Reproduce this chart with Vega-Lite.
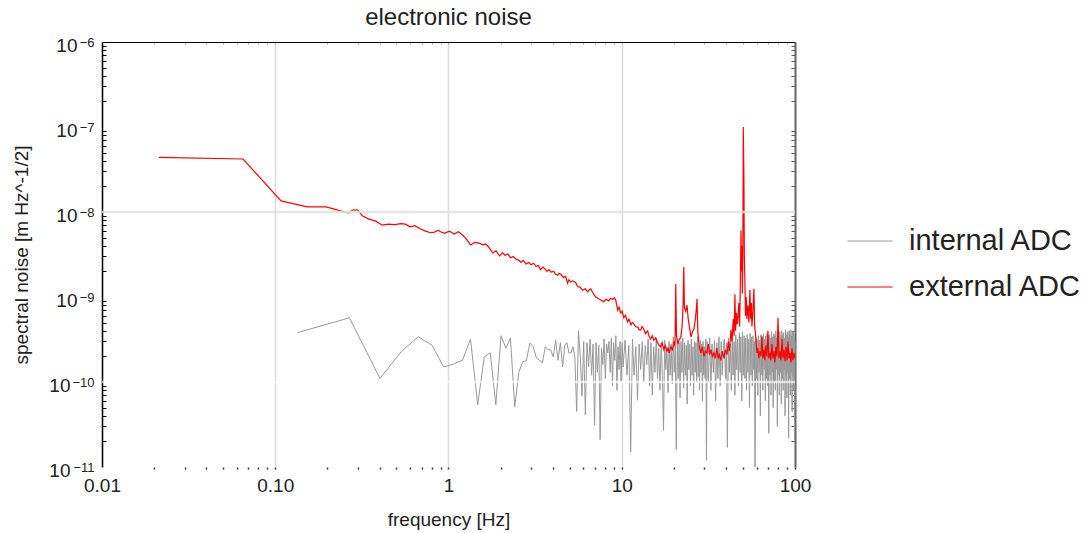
{
  "$schema": "https://vega.github.io/schema/vega-lite/v6.json",
  "width": 693,
  "height": 425,
  "autosize": {"type": "none"},
  "padding": {"left": 102, "top": 42, "right": 290, "bottom": 66},
  "background": "white",
  "title": {"text": "electronic noise", "fontSize": 24, "font": "Liberation Sans", "fontWeight": "normal", "color": "#222222", "offset": 6, "anchor": "middle"},
  "config": {
    "view": {"stroke": null},
    "font": "Liberation Sans",
    "axis": {"labelFont": "Liberation Sans", "titleFont": "Liberation Sans", "labelColor": "#222222", "titleColor": "#222222", "titleFontWeight": "normal"}
  },
  "resolve": {"axis": {"x": "independent", "y": "independent"}},
  "datasets": {
    "internal": [
      {"f":0.134,"v":3.8e-10},{"f":0.268,"v":5.7e-10},{"f":0.402,"v":1.1e-10},{"f":0.536,"v":2.3e-10},{"f":0.67,"v":3.4e-10},{"f":0.804,"v":2.7e-10},{"f":0.938,"v":1.5e-10},{"f":1.072,"v":1.63e-10},{"f":1.206,"v":1.81e-10},{"f":1.34,"v":3.2e-10},{"f":1.474,"v":5.4e-11},{"f":1.608,"v":1.97e-10},{"f":1.742,"v":2.2e-10},{"f":1.876,"v":5.4e-11},{"f":2.01,"v":3.5e-10},{"f":2.144,"v":2.5e-10},{"f":2.278,"v":3.3e-10},{"f":2.412,"v":5.1e-11},{"f":2.546,"v":1.3e-10},{"f":2.68,"v":1.73e-10},{"f":2.814,"v":1.78e-10},{"f":2.948,"v":2.87e-10},{"f":3.082,"v":2.6e-10},{"f":3.216,"v":1.92e-10},{"f":3.35,"v":1.8e-10},{"f":3.484,"v":1.68e-10},{"f":3.618,"v":2.6e-10},{"f":3.752,"v":2.4e-10},{"f":3.886,"v":2.4e-10},{"f":4.02,"v":1.97e-10},{"f":4.154,"v":3.1e-10},{"f":4.288,"v":1.8e-10},{"f":4.422,"v":2.9e-10},{"f":4.556,"v":1.5e-10},{"f":4.69,"v":2.7e-10},{"f":4.824,"v":2.9e-10},{"f":4.958,"v":2.2e-10},{"f":5.092,"v":2.2e-10},{"f":5.226,"v":2.6e-10},{"f":5.36,"v":2.0e-10},{"f":5.494,"v":4.5e-11},{"f":5.628,"v":4.0e-10},{"f":5.762,"v":2.0e-10},{"f":5.896,"v":6.8e-11},{"f":6.03,"v":3.0e-10},{"f":6.164,"v":4.1e-11},{"f":6.298,"v":2.9e-10},{"f":6.432,"v":1.5e-10},{"f":6.566,"v":3.2e-10},{"f":6.7,"v":1.2e-10},{"f":6.834,"v":2.8e-10},{"f":6.968,"v":3.1e-11},{"f":7.102,"v":2.9e-10},{"f":7.236,"v":1.3e-10},{"f":7.37,"v":2.7e-10},{"f":7.504,"v":2.1e-11},{"f":7.638,"v":2.5e-10},{"f":7.772,"v":1.6e-10},{"f":7.906,"v":3.2e-10},{"f":8.04,"v":1.1e-10},{"f":8.174,"v":2.8e-10},{"f":8.308,"v":2.2e-10},{"f":8.442,"v":3.0e-10},{"f":8.576,"v":1.3e-10},{"f":8.71,"v":3.3e-10},{"f":8.844,"v":9.0e-11},{"f":8.978,"v":2.9e-10},{"f":9.112,"v":1.8e-10},{"f":9.246,"v":3.5e-10},{"f":9.38,"v":8.0e-11},{"f":9.514,"v":2.6e-10},{"f":9.648,"v":1.4e-10},{"f":9.782,"v":3.0e-10},{"f":9.916,"v":1.0e-10},{"f":10.05,"v":2.9e-10},{"f":10.18,"v":1.5e-10},{"f":10.45,"v":3.1e-10},{"f":10.72,"v":1.2e-10},{"f":10.99,"v":2.7e-10},{"f":11.26,"v":1.5e-11},{"f":11.53,"v":3.2e-10},{"f":11.79,"v":1.2e-10},{"f":12.06,"v":2.6e-10},{"f":12.33,"v":6.1e-11},{"f":12.6,"v":2.8e-10},{"f":12.87,"v":1.4e-10},{"f":13.14,"v":3.0e-10},{"f":13.4,"v":1.0e-10},{"f":13.67,"v":2.7e-10},{"f":13.94,"v":1.6e-10},{"f":14.21,"v":3.2e-10},{"f":14.48,"v":9.0e-11},{"f":14.74,"v":2.9e-10},{"f":15.01,"v":7.0e-11},{"f":15.28,"v":2.6e-10},{"f":15.55,"v":1.3e-10},{"f":15.82,"v":3.3e-10},{"f":16.08,"v":1.1e-10},{"f":16.35,"v":2.5e-10},{"f":16.62,"v":8.0e-11},{"f":16.89,"v":2.9e-10},{"f":17.16,"v":1.2e-10},{"f":17.42,"v":2.7e-11},{"f":17.69,"v":3.1e-10},{"f":17.96,"v":1.4e-10},{"f":18.23,"v":2.6e-10},{"f":18.5,"v":7.5e-11},{"f":18.76,"v":3.0e-10},{"f":19.03,"v":1.2e-10},{"f":19.3,"v":2.8e-10},{"f":19.57,"v":9.5e-11},{"f":19.84,"v":3.4e-10},{"f":20.1,"v":1.3e-10},{"f":20.37,"v":2.6e-10},{"f":20.64,"v":1.6e-11},{"f":20.91,"v":3.2e-10},{"f":21.18,"v":1.1e-10},{"f":21.44,"v":2.9e-10},{"f":21.71,"v":6.5e-11},{"f":21.98,"v":3.0e-10},{"f":22.25,"v":1.3e-10},{"f":22.52,"v":3.3e-10},{"f":22.78,"v":8.5e-11},{"f":23.05,"v":2.9e-10},{"f":23.32,"v":1.2e-10},{"f":23.59,"v":2.7e-10},{"f":23.86,"v":5.5e-11},{"f":24.12,"v":3.1e-10},{"f":24.39,"v":1.4e-10},{"f":24.66,"v":2.8e-10},{"f":24.93,"v":9.0e-11},{"f":25.2,"v":3.2e-10},{"f":25.46,"v":1.2e-10},{"f":25.73,"v":2.6e-10},{"f":26.0,"v":7.0e-11},{"f":26.27,"v":3.0e-10},{"f":26.54,"v":1.3e-10},{"f":26.8,"v":2.9e-10},{"f":27.07,"v":1.0e-10},{"f":27.34,"v":3.4e-10},{"f":27.61,"v":1.15e-10},{"f":27.88,"v":2.7e-10},{"f":28.14,"v":8.0e-11},{"f":28.41,"v":3.1e-10},{"f":28.68,"v":1.3e-10},{"f":28.95,"v":2.8e-10},{"f":29.22,"v":6.0e-11},{"f":29.48,"v":3.0e-10},{"f":29.75,"v":1.2e-10},{"f":30.02,"v":2.6e-10},{"f":30.29,"v":1.1e-10},{"f":30.56,"v":3.2e-10},{"f":30.83,"v":1.2e-11},{"f":31.1,"v":3.0e-10},{"f":31.6,"v":1.0e-10},{"f":32.2,"v":3.3e-10},{"f":32.7,"v":8.0e-11},{"f":33.2,"v":2.8e-10},{"f":33.8,"v":1.3e-10},{"f":34.3,"v":3.1e-10},{"f":34.8,"v":6.0e-11},{"f":35.4,"v":2.9e-10},{"f":35.9,"v":1.1e-10},{"f":36.4,"v":3.4e-10},{"f":37.0,"v":9.0e-11},{"f":37.5,"v":3.0e-10},{"f":38.0,"v":1.2e-10},{"f":38.6,"v":2.7e-10},{"f":39.1,"v":3.2e-10},{"f":39.7,"v":1.1e-10},{"f":40.2,"v":2.9e-10},{"f":40.7,"v":1.7e-11},{"f":41.3,"v":3.3e-10},{"f":41.8,"v":1.3e-10},{"f":42.3,"v":2.8e-10},{"f":42.9,"v":8.0e-11},{"f":43.4,"v":3.5e-10},{"f":43.9,"v":1.2e-10},{"f":44.5,"v":3.0e-10},{"f":45.0,"v":7.0e-11},{"f":45.5,"v":3.6e-10},{"f":46.1,"v":1.4e-10},{"f":46.6,"v":3.2e-10},{"f":47.1,"v":9.0e-11},{"f":47.7,"v":3.8e-10},{"f":48.2,"v":1.3e-10},{"f":48.7,"v":3.4e-10},{"f":49.3,"v":6.0e-11},{"f":49.8,"v":3.9e-10},{"f":50.3,"v":1.2e-10},{"f":50.9,"v":3.5e-10},{"f":51.4,"v":1.1e-10},{"f":51.9,"v":3.3e-10},{"f":52.5,"v":8.0e-11},{"f":53.0,"v":3.6e-10},{"f":53.5,"v":1.3e-10},{"f":54.1,"v":3.2e-10},{"f":54.6,"v":5.0e-11},{"f":55.1,"v":3.7e-10},{"f":55.7,"v":1.2e-10},{"f":56.2,"v":3.4e-10},{"f":56.7,"v":9.0e-11},{"f":57.3,"v":3.5e-10},{"f":57.8,"v":1.4e-10},{"f":58.3,"v":3.0e-10},{"f":58.8,"v":1.0e-11},{"f":59.4,"v":3.4e-10},{"f":59.9,"v":1.1e-10},{"f":60.4,"v":3.2e-10},{"f":61.0,"v":7.0e-11},{"f":61.5,"v":3.5e-10},{"f":62.0,"v":1.3e-10},{"f":62.6,"v":3.1e-10},{"f":63.1,"v":4.0e-11},{"f":63.6,"v":3.6e-10},{"f":64.2,"v":1.2e-10},{"f":64.7,"v":3.3e-10},{"f":65.2,"v":8.0e-11},{"f":65.8,"v":3.7e-10},{"f":66.3,"v":1.4e-10},{"f":66.8,"v":3.2e-10},{"f":67.4,"v":6.0e-11},{"f":67.9,"v":3.5e-10},{"f":68.4,"v":1.1e-10},{"f":69.0,"v":3.8e-10},{"f":69.5,"v":9.0e-11},{"f":70.0,"v":3.4e-10},{"f":70.6,"v":2.5e-11},{"f":71.1,"v":3.6e-10},{"f":71.6,"v":1.2e-10},{"f":72.2,"v":3.3e-10},{"f":72.7,"v":7.0e-11},{"f":73.2,"v":3.9e-10},{"f":73.8,"v":1.3e-10},{"f":74.3,"v":3.4e-10},{"f":74.8,"v":5.0e-11},{"f":75.4,"v":3.7e-10},{"f":75.9,"v":1.0e-10},{"f":76.4,"v":3.5e-10},{"f":77.0,"v":8.0e-11},{"f":77.5,"v":4.0e-10},{"f":78.0,"v":1.4e-10},{"f":78.6,"v":3.3e-10},{"f":79.1,"v":3.0e-11},{"f":79.6,"v":3.8e-10},{"f":80.2,"v":1.2e-10},{"f":80.7,"v":3.5e-10},{"f":81.2,"v":7.0e-11},{"f":81.8,"v":3.9e-10},{"f":82.3,"v":1.3e-10},{"f":82.8,"v":3.4e-10},{"f":83.4,"v":5.5e-11},{"f":83.9,"v":4.0e-10},{"f":84.4,"v":1.1e-10},{"f":85.0,"v":3.6e-10},{"f":85.5,"v":8.0e-11},{"f":86.0,"v":3.8e-10},{"f":86.6,"v":1.4e-10},{"f":87.1,"v":3.3e-10},{"f":87.6,"v":4.0e-11},{"f":88.2,"v":4.1e-10},{"f":88.7,"v":1.2e-10},{"f":89.2,"v":3.6e-10},{"f":89.8,"v":6.5e-11},{"f":90.3,"v":3.9e-10},{"f":90.8,"v":1.3e-10},{"f":91.4,"v":3.4e-10},{"f":91.9,"v":2.2e-11},{"f":92.4,"v":4.0e-10},{"f":93.0,"v":1.1e-10},{"f":93.5,"v":3.7e-10},{"f":94.0,"v":7.0e-11},{"f":94.6,"v":4.1e-10},{"f":95.1,"v":1.3e-10},{"f":95.6,"v":3.5e-10},{"f":96.2,"v":4.5e-11},{"f":96.7,"v":3.9e-10},{"f":97.2,"v":1.2e-10},{"f":97.8,"v":4.0e-10},{"f":98.3,"v":8.0e-11},{"f":98.8,"v":3.6e-10},{"f":99.4,"v":2.1e-11},{"f":100,"v":3.0e-10}
    ],
    "external": [
      {"f":0.0213,"v":4.4e-8},{"f":0.0652,"v":4.2e-8},{"f":0.108,"v":1.35e-8},{"f":0.153,"v":1.15e-8},{"f":0.197,"v":1.15e-8},{"f":0.238,"v":1.03e-8},{"f":0.264,"v":9.8e-9},{"f":0.282,"v":1.06e-8},{"f":0.3,"v":1.05e-8},{"f":0.318,"v":9.0e-9},{"f":0.345,"v":8.3e-9},{"f":0.38,"v":7.8e-9},{"f":0.415,"v":7.0e-9},{"f":0.45,"v":7.2e-9},{"f":0.49,"v":7.1e-9},{"f":0.53,"v":7.3e-9},{"f":0.564,"v":7.2e-9},{"f":0.6,"v":6.7e-9},{"f":0.64,"v":6.9e-9},{"f":0.69,"v":6.3e-9},{"f":0.73,"v":6.0e-9},{"f":0.787,"v":5.7e-9},{"f":0.83,"v":5.8e-9},{"f":0.87,"v":6.1e-9},{"f":0.9,"v":5.85e-9},{"f":0.95,"v":5.6e-9},{"f":1.0,"v":5.9e-9},{"f":1.03,"v":5.85e-9},{"f":1.08,"v":5.5e-9},{"f":1.14,"v":5.85e-9},{"f":1.2,"v":5.4e-9},{"f":1.27,"v":4.8e-9},{"f":1.34,"v":4.1e-9},{"f":1.42,"v":4.4e-9},{"f":1.5,"v":4.3e-9},{"f":1.58,"v":4.1e-9},{"f":1.64,"v":4.2e-9},{"f":1.7,"v":3.9e-9},{"f":1.8,"v":3.3e-9},{"f":1.88,"v":3.5e-9},{"f":1.97,"v":3.05e-9},{"f":2.05,"v":3.3e-9},{"f":2.12,"v":3.1e-9},{"f":2.2,"v":3.2e-9},{"f":2.28,"v":2.9e-9},{"f":2.36,"v":3.0e-9},{"f":2.45,"v":2.8e-9},{"f":2.55,"v":2.7e-9},{"f":2.62,"v":2.55e-9},{"f":2.7,"v":2.7e-9},{"f":2.8,"v":2.45e-9},{"f":2.9,"v":2.55e-9},{"f":3.0,"v":2.4e-9},{"f":3.1,"v":2.5e-9},{"f":3.2,"v":2.3e-9},{"f":3.3,"v":2.35e-9},{"f":3.4,"v":2.1e-9},{"f":3.5,"v":2.25e-9},{"f":3.6,"v":2.15e-9},{"f":3.7,"v":2.0e-9},{"f":3.8,"v":2.1e-9},{"f":3.9,"v":1.97e-9},{"f":4.05,"v":2.0e-9},{"f":4.15,"v":1.85e-9},{"f":4.27,"v":1.8e-9},{"f":4.35,"v":1.9e-9},{"f":4.44,"v":1.85e-9},{"f":4.6,"v":1.7e-9},{"f":4.74,"v":1.75e-9},{"f":4.87,"v":1.45e-9},{"f":4.95,"v":1.6e-9},{"f":5.07,"v":1.5e-9},{"f":5.2,"v":1.55e-9},{"f":5.42,"v":1.48e-9},{"f":5.57,"v":1.33e-9},{"f":5.75,"v":1.3e-9},{"f":5.95,"v":1.2e-9},{"f":6.15,"v":1.25e-9},{"f":6.36,"v":1.15e-9},{"f":6.5,"v":1.22e-9},{"f":6.62,"v":1.25e-9},{"f":6.8,"v":1.13e-9},{"f":6.95,"v":1.05e-9},{"f":7.08,"v":1.0e-9},{"f":7.3,"v":9.6e-10},{"f":7.57,"v":9.2e-10},{"f":7.87,"v":8.8e-10},{"f":8.1,"v":9.4e-10},{"f":8.4,"v":9.0e-10},{"f":8.6,"v":9.6e-10},{"f":8.87,"v":9.4e-10},{"f":9.05,"v":9.8e-10},{"f":9.23,"v":9.2e-10},{"f":9.48,"v":7.0e-10},{"f":9.65,"v":7.6e-10},{"f":9.86,"v":6.5e-10},{"f":10.05,"v":6.8e-10},{"f":10.28,"v":5.7e-10},{"f":10.5,"v":6.1e-10},{"f":10.8,"v":5.1e-10},{"f":11.0,"v":5.5e-10},{"f":11.3,"v":4.7e-10},{"f":11.5,"v":5.0e-10},{"f":11.7,"v":4.9e-10},{"f":12.0,"v":4.5e-10},{"f":12.4,"v":4.4e-10},{"f":12.6,"v":4.1e-10},{"f":12.9,"v":4.1e-10},{"f":13.1,"v":4.5e-10},{"f":13.4,"v":4.2e-10},{"f":13.7,"v":3.7e-10},{"f":14.1,"v":4.0e-10},{"f":14.4,"v":3.4e-10},{"f":14.7,"v":3.2e-10},{"f":15.0,"v":3.5e-10},{"f":15.3,"v":3.1e-10},{"f":15.7,"v":3.3e-10},{"f":16.1,"v":2.9e-10},{"f":16.4,"v":2.7e-10},{"f":16.8,"v":2.6e-10},{"f":17.1,"v":2.9e-10},{"f":17.5,"v":2.4e-10},{"f":17.8,"v":2.7e-10},{"f":18.2,"v":2.3e-10},{"f":18.5,"v":2.5e-10},{"f":18.8,"v":2.2e-10},{"f":19.2,"v":2.6e-10},{"f":19.6,"v":2.4e-10},{"f":20.0,"v":3.0e-10},{"f":20.3,"v":2.6e-10},{"f":20.5,"v":1.42e-9},{"f":20.7,"v":3.5e-10},{"f":21.1,"v":2.8e-10},{"f":21.5,"v":3.2e-10},{"f":21.9,"v":3.3e-10},{"f":22.3,"v":4.5e-10},{"f":22.6,"v":8.0e-10},{"f":22.8,"v":2.25e-9},{"f":23.0,"v":7.5e-10},{"f":23.4,"v":6.8e-10},{"f":23.8,"v":8.0e-10},{"f":24.2,"v":5.5e-10},{"f":24.6,"v":4.4e-10},{"f":25.1,"v":3.4e-10},{"f":25.6,"v":3.9e-10},{"f":26.1,"v":4.2e-10},{"f":26.6,"v":5.5e-10},{"f":27.0,"v":7.5e-10},{"f":27.2,"v":9.5e-10},{"f":27.5,"v":3.8e-10},{"f":28.0,"v":2.6e-10},{"f":28.6,"v":2.2e-10},{"f":29.2,"v":2.6e-10},{"f":29.8,"v":2.0e-10},{"f":30.4,"v":2.3e-10},{"f":31.0,"v":2.2e-10},{"f":31.6,"v":2.8e-10},{"f":32.1,"v":2.1e-10},{"f":32.7,"v":2.4e-10},{"f":33.3,"v":2.0e-10},{"f":34.0,"v":2.2e-10},{"f":34.6,"v":1.9e-10},{"f":35.4,"v":2.5e-10},{"f":36.0,"v":1.9e-10},{"f":36.6,"v":2.1e-10},{"f":37.3,"v":1.8e-10},{"f":38.0,"v":2.3e-10},{"f":38.9,"v":1.9e-10},{"f":39.6,"v":2.4e-10},{"f":40.5,"v":2.1e-10},{"f":41.2,"v":3.0e-10},{"f":41.8,"v":2.3e-10},{"f":42.7,"v":4.1e-10},{"f":43.3,"v":3.0e-10},{"f":44.0,"v":5.5e-10},{"f":44.5,"v":3.5e-10},{"f":45.0,"v":1.08e-9},{"f":45.4,"v":4.0e-10},{"f":45.9,"v":6.5e-10},{"f":46.4,"v":4.8e-10},{"f":46.9,"v":6.0e-10},{"f":47.4,"v":8.5e-10},{"f":47.9,"v":4.5e-10},{"f":48.4,"v":1.6e-9},{"f":48.8,"v":6.1e-9},{"f":49.1,"v":2.0e-9},{"f":49.4,"v":4.0e-9},{"f":49.7,"v":1.1e-9},{"f":50.0,"v":3.0e-9},{"f":50.3,"v":1.0e-7},{"f":50.7,"v":2.5e-8},{"f":51.0,"v":3.0e-9},{"f":51.4,"v":1.5e-9},{"f":51.8,"v":6.0e-10},{"f":52.3,"v":1.0e-9},{"f":52.8,"v":5.5e-10},{"f":53.5,"v":8.0e-10},{"f":54.2,"v":5.0e-10},{"f":54.9,"v":1.21e-9},{"f":55.5,"v":5.5e-10},{"f":56.0,"v":8.5e-10},{"f":56.4,"v":4.5e-10},{"f":57.2,"v":7.0e-10},{"f":57.9,"v":1.25e-9},{"f":58.5,"v":4.6e-10},{"f":59.3,"v":3.5e-10},{"f":60.3,"v":2.2e-10},{"f":61.0,"v":2.5e-10},{"f":61.8,"v":1.9e-10},{"f":62.6,"v":2.3e-10},{"f":63.6,"v":2.0e-10},{"f":64.4,"v":3.5e-10},{"f":65.3,"v":1.9e-10},{"f":66.2,"v":2.4e-10},{"f":67.0,"v":1.8e-10},{"f":67.9,"v":2.7e-10},{"f":68.8,"v":2.0e-10},{"f":69.8,"v":4.0e-10},{"f":70.6,"v":1.9e-10},{"f":71.6,"v":2.2e-10},{"f":72.6,"v":1.8e-10},{"f":73.6,"v":2.8e-10},{"f":74.6,"v":1.9e-10},{"f":75.6,"v":2.3e-10},{"f":76.6,"v":1.7e-10},{"f":77.6,"v":2.6e-10},{"f":78.7,"v":2.0e-10},{"f":79.8,"v":5.7e-10},{"f":80.8,"v":1.9e-10},{"f":81.9,"v":2.3e-10},{"f":83.0,"v":1.8e-10},{"f":84.2,"v":3.2e-10},{"f":85.3,"v":1.9e-10},{"f":86.4,"v":2.4e-10},{"f":87.6,"v":1.75e-10},{"f":88.8,"v":2.6e-10},{"f":90.0,"v":1.8e-10},{"f":91.1,"v":3.0e-10},{"f":92.3,"v":1.9e-10},{"f":93.5,"v":2.2e-10},{"f":94.8,"v":1.7e-10},{"f":96.0,"v":2.5e-10},{"f":97.3,"v":1.8e-10},{"f":98.7,"v":2.2e-10},{"f":100,"v":1.9e-10}
    ]
  },
  "layer": [
    {
      "data": {"name": "internal"},
      "mark": {"type": "line", "strokeWidth": 1},
      "encoding": {
        "x": {
          "field": "f", "type": "quantitative",
          "scale": {"type": "log", "domain": [0.01, 100], "nice": false},
          "axis": {
            "orient": "bottom", "values": [0.01, 0.1, 1, 10, 100],
            "labelExpr": "datum.value < 0.05 ? '0.01' : datum.value < 0.5 ? '0.10' : datum.value < 5 ? '1' : datum.value < 50 ? '10' : '100'",
            "labelFontSize": 19, "labelPadding": 9, "labelFlush": false, "labelOverlap": false, "labelBound": false,
            "ticks": false, "domain": false,
            "grid": true, "gridColor": "#dcdcdc", "gridWidth": 1.5,
            "title": "frequency [Hz]", "titleFontSize": 19, "titlePadding": 15
          }
        },
        "y": {
          "field": "v", "type": "quantitative",
          "scale": {"type": "log", "domain": [1e-11, 1e-6], "nice": false},
          "axis": {
            "orient": "left", "values": [1e-11, 1e-10, 1e-9, 1e-8, 1e-7, 1e-6],
            "labelExpr": "'10'",
            "labelFontSize": 19, "labelOverlap": false, "labelBound": false,
            "labelPadding": {"condition": {"test": "datum.value < 5e-10", "value": 32}, "value": 25},
            "labelOffset": 3.5,
            "ticks": false, "domain": true, "domainColor": "#000000", "domainWidth": 1.5,
            "grid": false,
            "title": "spectral noise [m Hz^-1/2]", "titleFontSize": 19, "titlePadding": 17
          }
        },
        "color": {
          "datum": "internal ADC", "type": "nominal",
          "scale": {"domain": ["internal ADC", "external ADC"], "range": ["#999999", "#ff0000"]},
          "legend": {
            "orient": "none", "legendX": 745, "legendY": 176, "title": null,
            "labelFontSize": 29, "labelFont": "Liberation Sans", "labelColor": "#222222", "labelLimit": 400,
            "symbolType": "stroke", "symbolSize": 2025, "symbolStrokeWidth": 1,
            "labelOffset": 16, "rowPadding": 8, "padding": 0
          }
        }
      }
    },
    {
      "data": {"name": "external"},
      "mark": {"type": "line", "strokeWidth": 1.2},
      "encoding": {
        "x": {
          "field": "f", "type": "quantitative",
          "axis": {
            "orient": "bottom",
            "values": [0.02,0.03,0.04,0.05,0.06,0.07,0.08,0.09,0.1,0.2,0.3,0.4,0.5,0.6,0.7,0.8,0.9,1,2,3,4,5,6,7,8,9,10,20,30,40,50,60,70,80,90,100],
            "labels": false, "domain": false, "grid": false, "title": null,
            "tickSize": 2, "tickWidth": 1.5, "tickColor": "#333333"
          }
        },
        "y": {
          "field": "v", "type": "quantitative",
          "axis": {
            "orient": "left",
            "values": [2e-11,3e-11,4e-11,5e-11,6e-11,7e-11,8e-11,9e-11,2e-10,3e-10,4e-10,5e-10,6e-10,7e-10,8e-10,9e-10,2e-9,3e-9,4e-9,5e-9,6e-9,7e-9,8e-9,9e-9,2e-8,3e-8,4e-8,5e-8,6e-8,7e-8,8e-8,9e-8,2e-7,3e-7,4e-7,5e-7,6e-7,7e-7,8e-7,9e-7],
            "labels": false, "domain": false, "grid": false, "title": null,
            "tickSize": -4, "tickWidth": 1, "tickColor": "#000000"
          }
        },
        "color": {"datum": "external ADC", "type": "nominal"}
      }
    },
    {
      "data": {"values": [{}]},
      "mark": {"type": "rule", "color": "#e0e0e0", "strokeWidth": 2.5, "opacity": 0.85},
      "encoding": {
        "x": {
          "datum": 0.01, "type": "quantitative",
          "axis": {
            "orient": "top",
            "values": [0.02,0.03,0.04,0.05,0.06,0.07,0.08,0.09,0.1,0.2,0.3,0.4,0.5,0.6,0.7,0.8,0.9,1,2,3,4,5,6,7,8,9,10,20,30,40,50,60,70,80,90,100],
            "labels": false, "domain": true, "domainColor": "#000000", "domainWidth": 1, "grid": false, "title": null,
            "tickSize": -2, "tickWidth": 1, "tickColor": "#aaaaaa"
          }
        },
        "x2": {"datum": 100},
        "y": {
          "datum": 1e-8, "type": "quantitative",
          "axis": {
            "orient": "right",
            "values": [2e-11,3e-11,4e-11,5e-11,6e-11,7e-11,8e-11,9e-11,2e-10,3e-10,4e-10,5e-10,6e-10,7e-10,8e-10,9e-10,2e-9,3e-9,4e-9,5e-9,6e-9,7e-9,8e-9,9e-9,2e-8,3e-8,4e-8,5e-8,6e-8,7e-8,8e-8,9e-8,2e-7,3e-7,4e-7,5e-7,6e-7,7e-7,8e-7,9e-7],
            "labels": false, "domain": true, "domainColor": "#666666", "domainWidth": 2, "grid": false, "title": null,
            "tickSize": -4, "tickWidth": 1, "tickColor": "#555555"
          }
        }
      }
    },
    {
      "data": {"values": [{}]},
      "mark": {"type": "rule", "color": "#ffffff", "strokeWidth": 2.5, "opacity": 0.65},
      "encoding": {
        "x": {"datum": 0.01, "type": "quantitative", "axis": null},
        "x2": {"datum": 100},
        "y": {
          "datum": 1e-10, "type": "quantitative",
          "axis": {
            "orient": "left", "values": [1e-11, 1e-10, 1e-9, 1e-8, 1e-7, 1e-6],
            "labelExpr": "datum.value > 5e-7 ? '−6' : datum.value > 5e-8 ? '−7' : datum.value > 5e-9 ? '−8' : datum.value > 5e-10 ? '−9' : datum.value > 5e-11 ? '−10' : '−11'",
            "labelFontSize": 13, "labelPadding": 8, "labelOffset": 0, "labelOverlap": false, "labelBound": false,
            "ticks": false, "domain": false, "grid": false, "title": null
          }
        }
      }
    }
  ]
}
